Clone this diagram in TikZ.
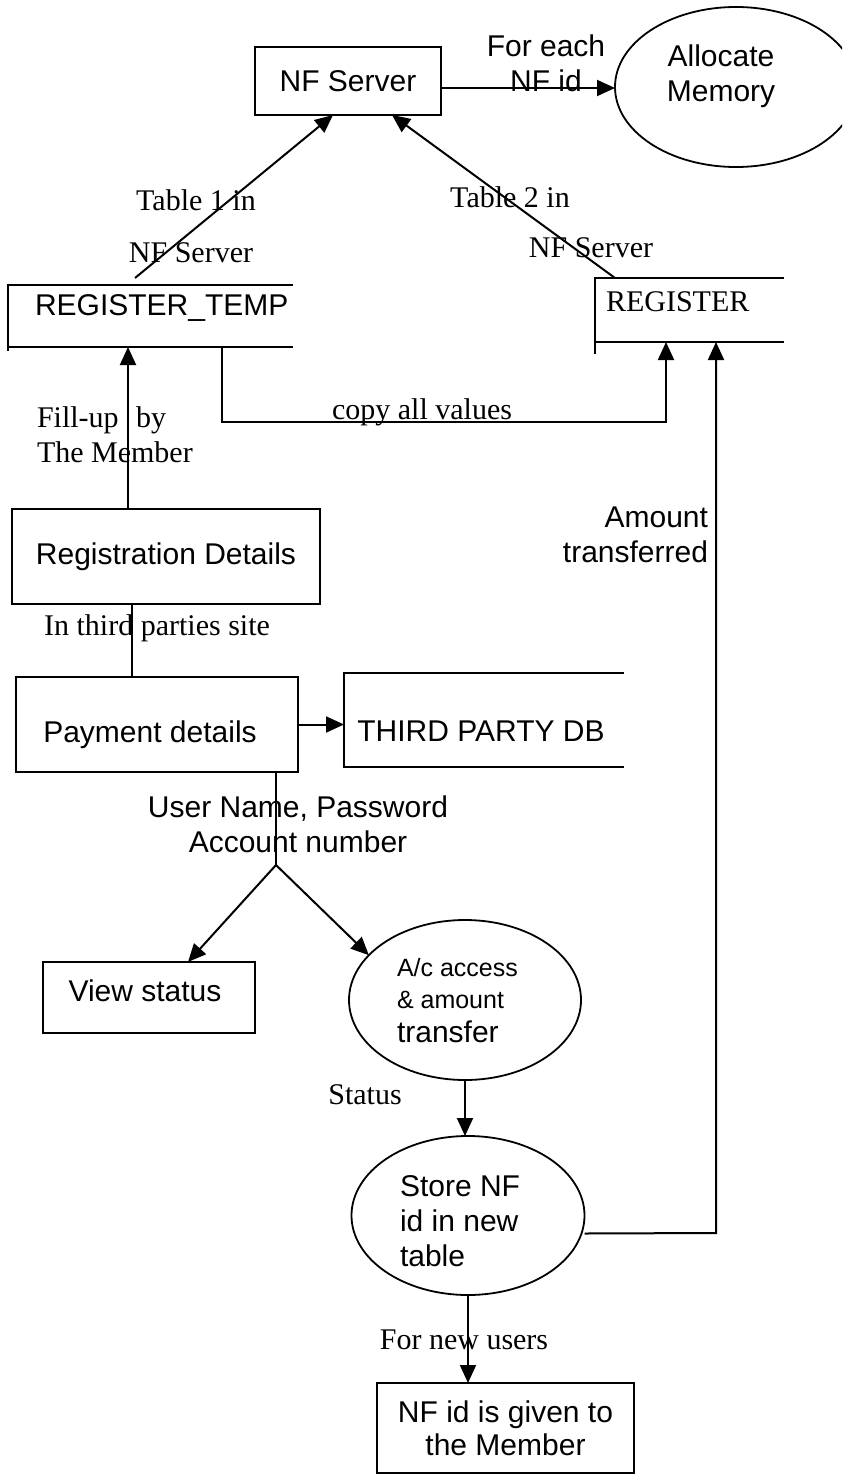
\documentclass[tikz,border=0pt]{standalone}
\usepackage{fontspec}
\setmainfont{Liberation Serif}
\setsansfont{Liberation Sans}
\usetikzlibrary{arrows.meta,shapes.geometric}
\begin{document}
\begin{tikzpicture}[x=0.5pt,y=-0.5pt,
  every node/.style={inner sep=0pt, outer sep=0pt},
  sf/.style={font=\sffamily\fontsize{15}{17.5}\selectfont},
  sfs/.style={font=\sffamily\fontsize{12.5}{15}\selectfont},
  rm/.style={font=\rmfamily\fontsize{15}{17.5}\selectfont},
  boxnode/.style={draw, line width=1pt, sf, align=center},
  ellnode/.style={draw, ellipse, line width=0.9pt},
  arr/.style={line width=1pt, -{Triangle[length=9pt,width=8pt]}},
  ln/.style={line width=1pt},
  storeline/.style={line width=1pt}]
\useasboundingbox (0,0) rectangle (842,1476);
\fill[white] (0,0) rectangle (842,1476);
\clip (0,0) rectangle (842,1476);

% ---- nodes ----
\node[boxnode, minimum width=93pt, minimum height=34pt] (nfs) at (348,81) {NF Server};
\node[ellnode, minimum width=121pt, minimum height=80pt] (alloc) at (736,87) {};
\node[sf, align=center] (alloctxt) at (721,76) {Allocate\\Memory};

% data stores
\node[minimum width=142.5pt, minimum height=31pt] (rt) at (150.5,316) {};
\draw[storeline] (rt.north east) -- (rt.north west) -- ([yshift=-2pt]rt.south west)
                 (rt.south west) -- (rt.south east);
\node[sf, anchor=west] (rttxt) at (35,308) {REGISTER\_TEMP};

\node[minimum width=94.5pt, minimum height=32pt] (reg) at (689.5,310) {};
\draw[storeline] (reg.north east) -- (reg.north west) -- ([yshift=-6pt]reg.south west)
                 (reg.south west) -- (reg.south east);
\node[rm, anchor=west] (regtxt) at (606,302) {REGISTER};

\node[minimum width=140pt, minimum height=47pt] (tp) at (484,720) {};
\draw[storeline] (tp.north east) -- (tp.north west) -- (tp.south west) -- (tp.south east);
\node[sf] (tptxt) at (481,731) {THIRD PARTY DB};

% boxes
\node[boxnode, minimum width=154pt, minimum height=47.5pt] (regd) at (166,556.5) {Registration Details};
\node[boxnode, minimum width=141pt, minimum height=47.5pt] (pay) at (157,724.5) {};
\node[sf] (paytxt) at (150,735) {Payment details};
\node[boxnode, minimum width=106pt, minimum height=35.5pt] (vs) at (149,997.5) {};
\node[sf] (vstxt) at (145,991) {View status};

% processes
\node[ellnode, minimum width=116pt, minimum height=80pt] (acc) at (465,1000) {};
\node[sfs, anchor=west] (acc1) at (397,968) {A/c access};
\node[sfs, anchor=west] (acc2) at (397,1000) {\& amount};
\node[sf, anchor=west] (acc3) at (397,1032) {transfer};

\node[ellnode, minimum width=116.5pt, minimum height=79.5pt] (store) at (468,1215.5) {};
\node[sf, anchor=west, align=left] (storetxt) at (400,1221) {Store NF\\id in new\\table};

\node[draw, line width=1pt, minimum width=128.5pt, minimum height=45pt,
      font=\sffamily\fontsize{15}{16.5}\selectfont, align=center] (nfid) at (505.5,1428)
      {NF id is given to\\the Member};

% ---- labels ----
\node[sf, align=center] (feach) at (546,63) {For each\\NF id};
\node[rm] (t1a) at (196,200) {Table 1 in};
\node[rm] (t1b) at (191,253) {NF Server};
\node[rm] (t2a) at (510,197) {Table 2 in};
\node[rm] (t2b) at (591,248) {NF Server};
\node[rm, anchor=west, align=left] (fill) at (37,434.5) {Fill-up\hspace{5pt} by\\The Member};
\node[rm] (copy) at (422,412) {copy all values};
\node[sf, anchor=east, align=right] (amount) at (708,534.5) {Amount\\transferred};
\node[rm] (third) at (157,628) {In third parties site};
\node[sf, align=center] (user) at (298,824.5) {User Name, Password\\Account number};
\node[rm] (status) at (365,1095) {Status};
\node[rm] (newusers) at (464,1340) {For new users};

% ---- connectors ----
\draw[arr] ([yshift=-3.5pt]nfs.east) -- ([yshift=-3.5pt]nfs.east -| alloc.west);
\draw[arr] ([xshift=-7.75pt,yshift=3.5pt]rt.north) -- ([xshift=-7.5pt]nfs.south);
\draw[arr] ([xshift=10pt]reg.north west) -- ([xshift=22pt]nfs.south);
\draw[arr] ([xshift=-19pt]regd.north) -- ([xshift=-19pt]regd.north |- rt.south);
\coordinate (cpy) at (666,422);
\draw[arr] ([xshift=35.75pt]rt.south) |- (cpy) -- (cpy |- reg.south);
\coordinate (amtc) at (716,1233);
\draw[arr] ([yshift=-9pt]store.east) -- (amtc) -- (amtc |- reg.south);
\draw[ln] ([xshift=-17pt]regd.south) -- ([xshift=-17pt]regd.south |- pay.north);
\draw[arr] (pay.east) -- (pay.east -| tp.west);
\coordinate (br) at (276,865);
\draw[ln] (pay.south -| br) -- (br);
\draw[arr] (br) -- ([xshift=19.5pt]vs.north);
\draw[arr] (br) -- (acc.155);
\draw[arr] (acc.south) -- (acc.south |- store.north);
\draw[arr] (store.south) -- (store.south |- nfid.north);
\end{tikzpicture}
\end{document}
